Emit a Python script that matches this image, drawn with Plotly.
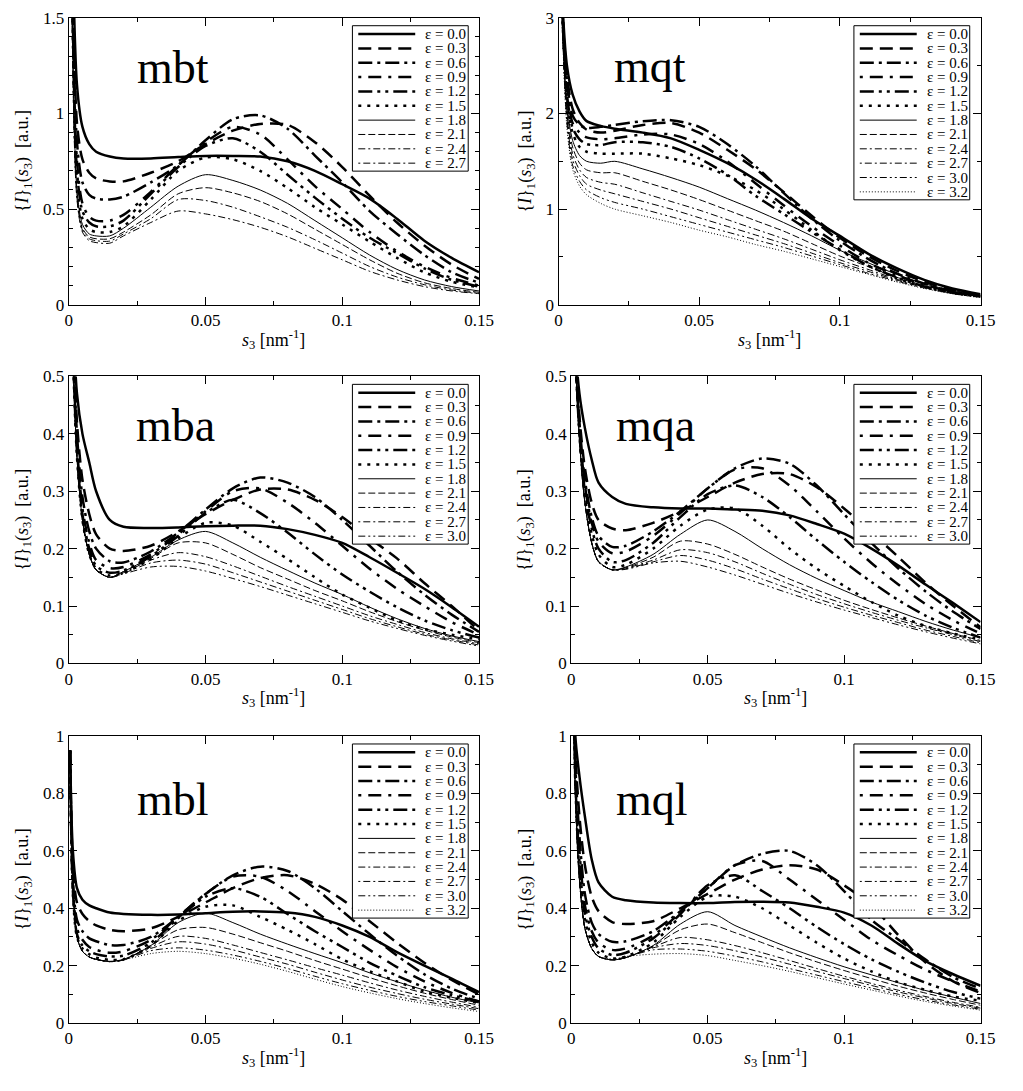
import plotly.graph_objects as go

# ---------------- data ----------------
S3 = [0.0005, 0.0015, 0.003, 0.005, 0.0075, 0.01, 0.015, 0.02, 0.03, 0.04, 0.05,
      0.06, 0.07, 0.08, 0.09, 0.1, 0.11, 0.12, 0.13, 0.14, 0.15]

EPS_ALL = ["0.0", "0.3", "0.6", "0.9", "1.2", "1.5", "1.8", "2.1", "2.4", "2.7", "3.0", "3.2"]

mbt_eps = EPS_ALL[:10]
mbt_I = [
    [3.0, 1.8, 1.15, 0.93, 0.84, 0.8, 0.775, 0.765, 0.765, 0.772, 0.778, 0.778, 0.775, 0.75, 0.7, 0.63, 0.555, 0.45, 0.335, 0.245, 0.17],
    [3.0, 1.7, 0.95, 0.76, 0.69, 0.66, 0.645, 0.645, 0.69, 0.75, 0.84, 0.91, 0.945, 0.94, 0.85, 0.72, 0.57, 0.43, 0.31, 0.21, 0.135],
    [3.0, 1.6, 0.85, 0.64, 0.575, 0.555, 0.55, 0.565, 0.64, 0.73, 0.86, 0.97, 0.99, 0.92, 0.78, 0.64, 0.49, 0.37, 0.26, 0.17, 0.115],
    [3.0, 1.5, 0.75, 0.53, 0.46, 0.44, 0.44, 0.47, 0.59, 0.73, 0.85, 0.93, 0.89, 0.76, 0.62, 0.5, 0.38, 0.28, 0.2, 0.14, 0.1],
    [3.0, 1.45, 0.7, 0.49, 0.43, 0.41, 0.41, 0.44, 0.58, 0.72, 0.83, 0.87, 0.8, 0.68, 0.56, 0.45, 0.35, 0.27, 0.19, 0.13, 0.095],
    [3.0, 1.4, 0.65, 0.45, 0.395, 0.38, 0.38, 0.41, 0.55, 0.7, 0.77, 0.76, 0.7, 0.61, 0.51, 0.42, 0.33, 0.245, 0.17, 0.12, 0.09],
    [3.0, 1.35, 0.6, 0.42, 0.37, 0.36, 0.36, 0.4, 0.51, 0.62, 0.68, 0.65, 0.6, 0.53, 0.44, 0.35, 0.26, 0.185, 0.13, 0.095, 0.072],
    [3.0, 1.3, 0.58, 0.4, 0.355, 0.345, 0.345, 0.38, 0.47, 0.58, 0.612, 0.585, 0.54, 0.475, 0.395, 0.315, 0.235, 0.165, 0.115, 0.085, 0.065],
    [3.0, 1.25, 0.56, 0.39, 0.345, 0.335, 0.333, 0.37, 0.45, 0.55, 0.545, 0.51, 0.46, 0.405, 0.34, 0.27, 0.2, 0.145, 0.105, 0.077, 0.06],
    [3.0, 1.2, 0.55, 0.38, 0.335, 0.325, 0.322, 0.36, 0.43, 0.49, 0.475, 0.445, 0.405, 0.355, 0.295, 0.235, 0.175, 0.13, 0.095, 0.072, 0.058],
]

mqt_eps = EPS_ALL[:12]
mqt_I = [
    [4.0, 3.1, 2.5, 2.2, 2.02, 1.92, 1.87, 1.84, 1.8, 1.74, 1.62, 1.48, 1.31, 1.11, 0.9, 0.72, 0.535, 0.385, 0.26, 0.17, 0.11],
    [4.0, 3.0, 2.4, 2.05, 1.9, 1.83, 1.8, 1.82, 1.88, 1.9, 1.8, 1.62, 1.42, 1.18, 0.93, 0.7, 0.51, 0.36, 0.24, 0.155, 0.1],
    [4.0, 3.0, 2.35, 1.98, 1.88, 1.85, 1.86, 1.88, 1.92, 1.93, 1.86, 1.68, 1.45, 1.17, 0.9, 0.67, 0.48, 0.33, 0.22, 0.14, 0.095],
    [4.0, 3.0, 2.3, 1.9, 1.8, 1.75, 1.73, 1.74, 1.78, 1.78, 1.68, 1.5, 1.27, 1.04, 0.82, 0.62, 0.44, 0.31, 0.21, 0.135, 0.09],
    [4.0, 2.95, 2.2, 1.85, 1.73, 1.68, 1.67, 1.7, 1.7, 1.65, 1.53, 1.36, 1.14, 0.95, 0.76, 0.58, 0.41, 0.29, 0.19, 0.125, 0.085],
    [4.0, 2.95, 2.15, 1.8, 1.65, 1.6, 1.58, 1.58, 1.58, 1.53, 1.46, 1.35, 1.2, 1.0, 0.78, 0.57, 0.41, 0.28, 0.19, 0.125, 0.085],
    [4.0, 2.9, 2.1, 1.72, 1.56, 1.5, 1.48, 1.5, 1.42, 1.33, 1.23, 1.11, 0.99, 0.86, 0.72, 0.57, 0.44, 0.32, 0.22, 0.15, 0.1],
    [4.0, 2.9, 2.05, 1.65, 1.48, 1.41, 1.38, 1.38, 1.29, 1.2, 1.1, 0.99, 0.88, 0.77, 0.64, 0.51, 0.4, 0.29, 0.2, 0.14, 0.095],
    [4.0, 2.85, 2.0, 1.58, 1.41, 1.33, 1.28, 1.26, 1.17, 1.08, 0.99, 0.89, 0.79, 0.69, 0.58, 0.47, 0.37, 0.27, 0.19, 0.13, 0.09],
    [4.0, 2.85, 1.95, 1.52, 1.35, 1.26, 1.2, 1.16, 1.08, 1.0, 0.91, 0.82, 0.73, 0.64, 0.54, 0.44, 0.35, 0.26, 0.18, 0.125, 0.085],
    [4.0, 2.8, 1.9, 1.46, 1.29, 1.2, 1.12, 1.07, 1.0, 0.92, 0.84, 0.76, 0.68, 0.6, 0.51, 0.42, 0.33, 0.25, 0.175, 0.12, 0.08],
    [4.0, 2.8, 1.85, 1.42, 1.24, 1.15, 1.06, 1.0, 0.93, 0.86, 0.78, 0.71, 0.63, 0.56, 0.48, 0.4, 0.32, 0.24, 0.17, 0.115, 0.075],
]

mba_eps = EPS_ALL[:11]
mba_I = [
    [1.0, 0.62, 0.47, 0.4, 0.35, 0.3, 0.25, 0.238, 0.236, 0.237, 0.239, 0.24, 0.24, 0.234, 0.224, 0.21, 0.185, 0.158, 0.13, 0.098, 0.064],
    [1.0, 0.6, 0.42, 0.32, 0.26, 0.225, 0.2, 0.196, 0.205, 0.23, 0.26, 0.285, 0.303, 0.303, 0.285, 0.255, 0.218, 0.183, 0.14, 0.1, 0.057],
    [1.0, 0.58, 0.4, 0.29, 0.23, 0.2, 0.178, 0.176, 0.195, 0.228, 0.268, 0.305, 0.324, 0.315, 0.29, 0.25, 0.205, 0.16, 0.12, 0.085, 0.055],
    [1.0, 0.57, 0.38, 0.27, 0.21, 0.18, 0.166, 0.168, 0.19, 0.225, 0.265, 0.3, 0.305, 0.28, 0.245, 0.205, 0.165, 0.13, 0.1, 0.072, 0.05],
    [1.0, 0.56, 0.37, 0.26, 0.2, 0.17, 0.158, 0.162, 0.187, 0.222, 0.262, 0.285, 0.262, 0.228, 0.19, 0.155, 0.125, 0.098, 0.075, 0.058, 0.045],
    [1.0, 0.55, 0.36, 0.25, 0.19, 0.165, 0.153, 0.158, 0.182, 0.218, 0.245, 0.24, 0.212, 0.182, 0.15, 0.12, 0.097, 0.075, 0.06, 0.05, 0.042],
    [1.0, 0.55, 0.36, 0.25, 0.19, 0.163, 0.15, 0.16, 0.185, 0.215, 0.23, 0.21, 0.185, 0.162, 0.14, 0.12, 0.098, 0.078, 0.061, 0.048, 0.038],
    [1.0, 0.55, 0.36, 0.25, 0.19, 0.163, 0.15, 0.16, 0.183, 0.21, 0.21, 0.19, 0.167, 0.147, 0.127, 0.109, 0.09, 0.073, 0.058, 0.046, 0.036],
    [1.0, 0.55, 0.36, 0.25, 0.19, 0.163, 0.15, 0.158, 0.18, 0.193, 0.186, 0.17, 0.152, 0.134, 0.117, 0.1, 0.083, 0.068, 0.054, 0.043, 0.034],
    [1.0, 0.55, 0.36, 0.25, 0.19, 0.163, 0.15, 0.157, 0.175, 0.18, 0.173, 0.158, 0.142, 0.126, 0.11, 0.094, 0.078, 0.064, 0.051, 0.041, 0.032],
    [1.0, 0.55, 0.36, 0.25, 0.19, 0.163, 0.15, 0.156, 0.168, 0.169, 0.161, 0.148, 0.134, 0.119, 0.104, 0.089, 0.074, 0.061, 0.049, 0.039, 0.03],
]

mqa_eps = EPS_ALL[:11]
mqa_I = [
    [1.0, 0.56, 0.47, 0.41, 0.355, 0.315, 0.29, 0.278, 0.272, 0.27, 0.27, 0.268, 0.266, 0.258, 0.243, 0.226, 0.2, 0.17, 0.137, 0.105, 0.072],
    [1.0, 0.55, 0.43, 0.34, 0.28, 0.25, 0.235, 0.232, 0.245, 0.265, 0.29, 0.315, 0.33, 0.33, 0.307, 0.27, 0.228, 0.185, 0.14, 0.1, 0.063],
    [1.0, 0.55, 0.42, 0.32, 0.255, 0.222, 0.203, 0.205, 0.23, 0.265, 0.305, 0.34, 0.357, 0.348, 0.31, 0.26, 0.21, 0.165, 0.125, 0.09, 0.06],
    [1.0, 0.55, 0.41, 0.31, 0.245, 0.212, 0.192, 0.195, 0.222, 0.262, 0.305, 0.338, 0.34, 0.31, 0.265, 0.218, 0.175, 0.137, 0.103, 0.075, 0.052],
    [1.0, 0.55, 0.4, 0.3, 0.235, 0.2, 0.177, 0.18, 0.21, 0.255, 0.295, 0.31, 0.29, 0.255, 0.215, 0.177, 0.142, 0.11, 0.083, 0.062, 0.045],
    [1.0, 0.55, 0.4, 0.29, 0.225, 0.19, 0.168, 0.172, 0.2, 0.24, 0.268, 0.27, 0.24, 0.2, 0.165, 0.135, 0.107, 0.083, 0.065, 0.052, 0.042],
    [1.0, 0.55, 0.39, 0.28, 0.21, 0.178, 0.163, 0.168, 0.19, 0.225, 0.25, 0.23, 0.2, 0.172, 0.148, 0.127, 0.107, 0.09, 0.073, 0.058, 0.045],
    [1.0, 0.55, 0.39, 0.28, 0.21, 0.177, 0.163, 0.167, 0.185, 0.213, 0.208, 0.19, 0.168, 0.147, 0.128, 0.11, 0.094, 0.079, 0.065, 0.052, 0.04],
    [1.0, 0.55, 0.39, 0.28, 0.21, 0.177, 0.163, 0.166, 0.18, 0.198, 0.193, 0.177, 0.157, 0.138, 0.12, 0.104, 0.089, 0.075, 0.062, 0.05, 0.038],
    [1.0, 0.55, 0.39, 0.28, 0.21, 0.177, 0.163, 0.165, 0.177, 0.188, 0.18, 0.165, 0.147, 0.13, 0.113, 0.098, 0.084, 0.071, 0.058, 0.047, 0.036],
    [1.0, 0.55, 0.39, 0.28, 0.21, 0.177, 0.163, 0.164, 0.175, 0.178, 0.168, 0.154, 0.138, 0.122, 0.107, 0.093, 0.08, 0.067, 0.055, 0.044, 0.034],
]

mbl_eps = EPS_ALL[:12]
mbl_I = [
    [0.95, 0.6, 0.47, 0.43, 0.41, 0.4, 0.385, 0.38, 0.377, 0.378, 0.383, 0.388, 0.389, 0.385, 0.37, 0.34, 0.3, 0.247, 0.2, 0.155, 0.108],
    [0.95, 0.55, 0.42, 0.38, 0.355, 0.34, 0.325, 0.32, 0.33, 0.37, 0.42, 0.47, 0.505, 0.515, 0.485, 0.43, 0.355, 0.28, 0.21, 0.15, 0.1],
    [0.95, 0.5, 0.36, 0.32, 0.295, 0.285, 0.272, 0.272, 0.3, 0.37, 0.45, 0.515, 0.545, 0.53, 0.47, 0.39, 0.31, 0.235, 0.17, 0.12, 0.085],
    [0.95, 0.48, 0.33, 0.29, 0.265, 0.255, 0.245, 0.25, 0.29, 0.37, 0.45, 0.51, 0.51, 0.46, 0.39, 0.32, 0.255, 0.195, 0.145, 0.105, 0.075],
    [0.95, 0.46, 0.31, 0.27, 0.25, 0.24, 0.232, 0.235, 0.28, 0.365, 0.44, 0.47, 0.44, 0.38, 0.32, 0.265, 0.21, 0.165, 0.125, 0.097, 0.075],
    [0.95, 0.45, 0.3, 0.26, 0.24, 0.228, 0.22, 0.222, 0.27, 0.355, 0.405, 0.41, 0.37, 0.325, 0.275, 0.222, 0.18, 0.145, 0.11, 0.088, 0.07],
    [0.95, 0.5, 0.3, 0.25, 0.23, 0.222, 0.215, 0.222, 0.27, 0.35, 0.383, 0.35, 0.31, 0.275, 0.242, 0.21, 0.175, 0.144, 0.115, 0.09, 0.07],
    [0.95, 0.5, 0.3, 0.25, 0.23, 0.222, 0.214, 0.22, 0.27, 0.325, 0.333, 0.31, 0.28, 0.25, 0.218, 0.188, 0.158, 0.13, 0.104, 0.082, 0.062],
    [0.95, 0.5, 0.3, 0.25, 0.23, 0.222, 0.214, 0.22, 0.265, 0.302, 0.295, 0.272, 0.246, 0.22, 0.193, 0.167, 0.14, 0.115, 0.093, 0.073, 0.055],
    [0.95, 0.5, 0.3, 0.25, 0.23, 0.222, 0.214, 0.22, 0.26, 0.283, 0.275, 0.255, 0.23, 0.205, 0.177, 0.15, 0.125, 0.103, 0.083, 0.066, 0.05],
    [0.95, 0.5, 0.3, 0.25, 0.23, 0.222, 0.214, 0.22, 0.252, 0.262, 0.254, 0.237, 0.215, 0.19, 0.163, 0.137, 0.114, 0.093, 0.075, 0.06, 0.045],
    [0.95, 0.5, 0.3, 0.25, 0.23, 0.222, 0.214, 0.22, 0.242, 0.25, 0.242, 0.226, 0.205, 0.18, 0.153, 0.127, 0.105, 0.085, 0.068, 0.053, 0.04],
]

mql_eps = EPS_ALL[:12]
mql_I = [
    [1.5, 1.0, 0.86, 0.72, 0.57, 0.49, 0.44, 0.428, 0.42, 0.418, 0.418, 0.422, 0.423, 0.42, 0.405, 0.385, 0.34, 0.275, 0.215, 0.17, 0.13],
    [1.4, 0.95, 0.72, 0.55, 0.44, 0.39, 0.352, 0.345, 0.355, 0.4, 0.45, 0.5, 0.535, 0.55, 0.535, 0.48, 0.41, 0.305, 0.21, 0.145, 0.105],
    [1.4, 0.9, 0.65, 0.45, 0.35, 0.31, 0.283, 0.285, 0.32, 0.39, 0.47, 0.55, 0.59, 0.6, 0.55, 0.46, 0.36, 0.29, 0.22, 0.16, 0.12],
    [1.4, 0.88, 0.6, 0.41, 0.32, 0.28, 0.255, 0.26, 0.305, 0.385, 0.47, 0.55, 0.565, 0.5, 0.43, 0.36, 0.29, 0.235, 0.185, 0.145, 0.11],
    [1.4, 0.85, 0.56, 0.38, 0.3, 0.26, 0.237, 0.245, 0.295, 0.38, 0.48, 0.515, 0.46, 0.4, 0.335, 0.275, 0.222, 0.178, 0.14, 0.108, 0.085],
    [1.4, 0.83, 0.53, 0.36, 0.28, 0.245, 0.225, 0.232, 0.28, 0.37, 0.44, 0.44, 0.4, 0.34, 0.28, 0.225, 0.18, 0.142, 0.115, 0.092, 0.078],
    [1.4, 0.8, 0.5, 0.33, 0.26, 0.232, 0.22, 0.228, 0.27, 0.345, 0.388, 0.34, 0.3, 0.262, 0.228, 0.196, 0.168, 0.14, 0.113, 0.09, 0.068],
    [1.4, 0.8, 0.5, 0.33, 0.26, 0.232, 0.22, 0.228, 0.268, 0.325, 0.345, 0.315, 0.28, 0.245, 0.213, 0.183, 0.155, 0.128, 0.104, 0.082, 0.062],
    [1.4, 0.8, 0.5, 0.33, 0.26, 0.232, 0.22, 0.228, 0.265, 0.298, 0.29, 0.27, 0.245, 0.218, 0.19, 0.163, 0.138, 0.114, 0.092, 0.072, 0.055],
    [1.4, 0.8, 0.5, 0.33, 0.26, 0.232, 0.22, 0.228, 0.262, 0.277, 0.27, 0.252, 0.23, 0.205, 0.18, 0.155, 0.131, 0.108, 0.087, 0.068, 0.052],
    [1.4, 0.8, 0.5, 0.33, 0.26, 0.232, 0.222, 0.23, 0.255, 0.258, 0.25, 0.233, 0.213, 0.19, 0.167, 0.144, 0.122, 0.1, 0.08, 0.063, 0.048],
    [1.4, 0.8, 0.5, 0.33, 0.26, 0.232, 0.222, 0.232, 0.24, 0.242, 0.235, 0.218, 0.2, 0.18, 0.158, 0.136, 0.115, 0.094, 0.075, 0.059, 0.045],
]

# ---------------- styling ----------------
W, H = 1023, 1091
FONT = "Liberation Serif, Times New Roman, serif"
THICK, THIN = 2.5, 1.0
LINE_STYLES = {
    "0.0": (THICK, "solid"),
    "0.3": (THICK, "13px,7px"),
    "0.6": (THICK, "14px,5px,3px,5px"),
    "0.9": (THICK, "3px,7px,13px,7px"),
    "1.2": (THICK, "14px,5px,3px,5px,3px,5px"),
    "1.5": (THICK, "3px,6px"),
    "1.8": (THIN, "solid"),
    "2.1": (THIN, "7px,3px"),
    "2.4": (THIN, "7px,3px,2px,3px"),
    "2.7": (THIN, "2px,3px,7px,3px"),
    "3.0": (THIN, "7px,3px,2px,3px,2px,3px"),
    "3.2": (THIN, "1px,2px"),
}

# panel: name, eps, values, y max, y major, y minor, pixel box (left, right, top, bottom)
PANELS = [
    ("mbt", mbt_eps, mbt_I, 1.5, 0.5, 0.1, (66, 484, 9, 301)),
    ("mqt", mqt_eps, mqt_I, 3.0, 1.0, 0.5, (565, 995, 9, 301)),
    ("mba", mba_eps, mba_I, 0.5, 0.1, 0.05, (66, 484, 374, 666)),
    ("mqa", mqa_eps, mqa_I, 0.5, 0.1, 0.05, (578, 995, 374, 666)),
    ("mbl", mbl_eps, mbl_I, 1.0, 0.2, 0.1, (66, 484, 740, 1032)),
    ("mql", mql_eps, mql_I, 1.0, 0.2, 0.1, (578, 995, 740, 1032)),
]
# panel label centres (pixels): x centre, baseline
LABEL_POS = [(172, 75), (658, 74), (175, 439), (664, 439), (172, 820), (660, 820)]
YTITLE_X = [20, 532, 20, 532, 20, 532]


def fx(p):
    return p / W


def fy(p):
    return 1 - p / H


fig = go.Figure()
layout = dict(width=W, height=H, margin=dict(l=0, r=0, t=0, b=0),
              paper_bgcolor="white", plot_bgcolor="white", showlegend=False)
shapes, annotations = [], []

for k, (name, eps, vals, ymax, ymaj, ymin, (L, R, T, B)) in enumerate(PANELS):
    idx = "" if k == 0 else str(k + 1)
    for e, v in zip(eps, vals):
        w, d = LINE_STYLES[e]
        fig.add_trace(go.Scatter(x=S3, y=v, mode="lines", xaxis="x" + idx, yaxis="y" + idx,
                                 line=dict(color="black", width=w, dash=d, shape="spline", smoothing=0.8),
                                 hoverinfo="skip"))
    common = dict(showline=True, linecolor="black", linewidth=1, mirror="allticks",
                  ticks="inside", ticklen=8, tickwidth=1, tickcolor="black",
                  showgrid=False, zeroline=False,
                  tickfont=dict(family=FONT, size=17, color="black"))
    layout["xaxis" + idx] = dict(common, domain=[fx(L), fx(R)], range=[0, 0.15], tick0=0, dtick=0.05,
                                 anchor="y" + idx,
                                 minor=dict(dtick=0.025, ticks="inside", ticklen=4, tickcolor="black", showgrid=False))
    layout["yaxis" + idx] = dict(common, domain=[fy(B), fy(T)], range=[0, ymax], tick0=0, dtick=ymaj,
                                 anchor="x" + idx,
                                 minor=dict(dtick=ymin, ticks="inside", ticklen=4, tickcolor="black", showgrid=False))

    # panel label
    lx, lb = LABEL_POS[k]
    annotations.append(dict(text=name, x=fx(lx), y=fy(lb - 15.5), xref="paper", yref="paper",
                            xanchor="center", yanchor="middle", showarrow=False,
                            font=dict(family=FONT, size=46, color="black")))
    # axis titles
    annotations.append(dict(text="<i>s</i><sub>3</sub> [nm<sup>-1</sup>]", x=fx((L + R) / 2), y=fy(B + 35),
                            xref="paper", yref="paper", xanchor="center", yanchor="middle",
                            showarrow=False, font=dict(family=FONT, size=18, color="black")))
    annotations.append(dict(text="{<i>I</i>}<sub>1</sub>(<i>s</i><sub>3</sub>)  [a.u.]", x=fx(YTITLE_X[k]),
                            y=fy((T + B) / 2), xref="paper", yref="paper", xanchor="center",
                            yanchor="middle", textangle=-90, showarrow=False,
                            font=dict(family=FONT, size=18, color="black")))

    # hand-drawn legend box
    n = len(eps)
    row = 14.6
    bw = 118
    bx1 = R - 11
    bx0 = bx1 - bw
    by0 = T + 8
    by1 = by0 + n * row + 2
    shapes.append(dict(type="rect", xref="paper", yref="paper", x0=fx(bx0), x1=fx(bx1),
                       y0=fy(by1), y1=fy(by0), line=dict(color="black", width=1),
                       fillcolor="white", layer="above"))
    for i, e in enumerate(eps):
        w, d = LINE_STYLES[e]
        yc = by0 + 8.5 + i * row
        shapes.append(dict(type="line", xref="paper", yref="paper", x0=fx(bx0 + 6), x1=fx(bx0 + 64),
                           y0=fy(yc), y1=fy(yc), line=dict(color="black", width=w, dash=d),
                           layer="above"))
        annotations.append(dict(text="ε = " + e, x=fx(bx0 + 72), y=fy(yc), xref="paper", yref="paper",
                                xanchor="left", yanchor="middle", showarrow=False,
                                font=dict(family=FONT, size=15, color="black")))

layout["shapes"] = shapes
layout["annotations"] = annotations
fig.update_layout(**layout)
fig.write_html("out.html")
